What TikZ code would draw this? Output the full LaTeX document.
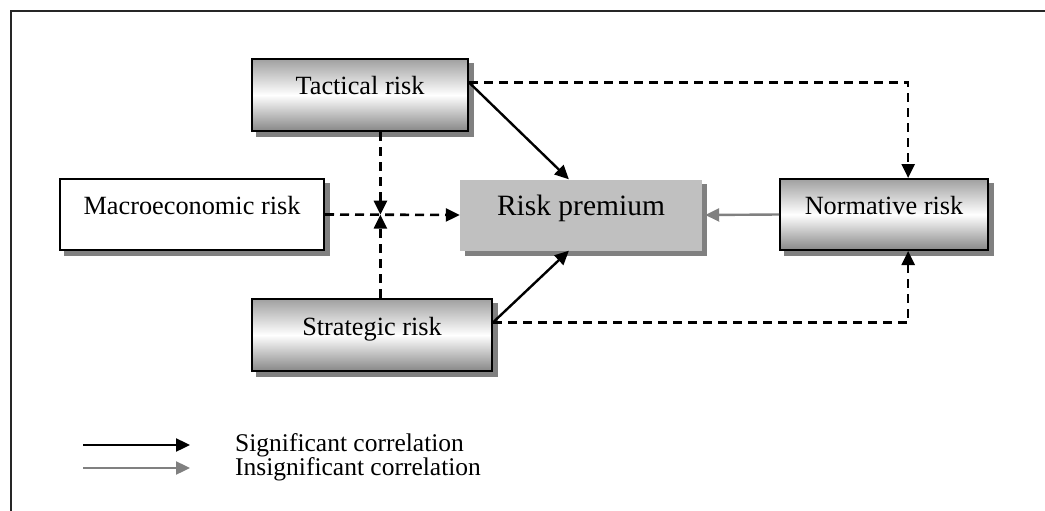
\documentclass[tikz,border=0pt]{standalone}
\usepackage{fontspec}
\setmainfont{Liberation Serif}
\usetikzlibrary{arrows.meta,calc,backgrounds}

\definecolor{shadowgray}{RGB}{128,128,128}
\definecolor{premiumgray}{RGB}{192,192,192}
\definecolor{shadetop}{RGB}{160,160,160}
\definecolor{shadebottom}{RGB}{135,135,135}
\definecolor{weakgray}{RGB}{128,128,128}

\tikzset{
  box/.style={rectangle, inner sep=0pt, line width=2pt, draw=black,
    text height=10pt, text depth=10pt,
    font=\fontsize{26.3}{30}\selectfont},
  shadedbox/.style={box, top color=shadetop, bottom color=shadebottom, middle color=white},
  plainbox/.style={box, fill=white},
  premiumbox/.style={rectangle, inner sep=0pt, fill=premiumgray,
    text height=11pt, text depth=11pt,
    font=\fontsize{29.5}{33}\selectfont},
  tip/.style={-{Triangle[length=14pt,width=13pt]}},
  strong/.style={tip, line width=2.4pt, draw=black},
  weak/.style={tip, line width=2.4pt, draw=weakgray},
  link/.style={tip, line width=2.6pt, draw=black, dash pattern=on 9pt off 6pt},
  legendtext/.style={anchor=base west, inner sep=0pt, font=\fontsize{25.5}{28}\selectfont}
}

\begin{document}
\begin{tikzpicture}[x=1pt,y=-1pt]
\useasboundingbox (0,0) rectangle (1045,511);

% frame
\draw[line width=2.5pt, black!85] (11,511) -- (11,11) -- (1045,11);

% boxes
\node[shadedbox, minimum width=216pt, minimum height=72pt] (tac) at (360,95) {Tactical risk};
\node[plainbox, minimum width=264pt, minimum height=71pt] (mac) at (192,214.5) {Macroeconomic risk};
\node[premiumbox, minimum width=242pt, minimum height=71pt] (rp) at (581,215) {Risk premium};
\node[shadedbox, minimum width=208pt, minimum height=71pt] (nor) at (884,214.5) {Normative risk};
\node[shadedbox, minimum width=240pt, minimum height=72pt] (str) at (372,335) {Strategic risk};

% drop shadows
\begin{scope}[on background layer]
  \foreach \n in {tac,mac,rp,nor,str}{
    \fill[shadowgray] ([shift={(5,5)}]\n.south west) rectangle ([shift={(5,5)}]\n.north east);
  }
\end{scope}

% anchor points on the box edges
\coordinate (tA) at ($(tac.north east)!0.33!(tac.south east)$);
\coordinate (sA) at ($(str.north east)!0.33!(str.south east)$);
\coordinate (rpT) at ($(rp.north west)!0.45!(rp.north east)$);
\coordinate (rpB) at ($(rp.south west)!0.45!(rp.south east)$);
\coordinate (nT) at ($(nor.north west)!0.615!(nor.north east)$);
\coordinate (nB) at ($(nor.south west)!0.615!(nor.south east)$);
\coordinate (X) at ($(mac.east)!0.411!(rp.west)$);

% significant links
\draw[strong] (tA) -- (rpT);
\draw[strong] (sA) -- (rpB);

% insignificant link
\draw[weak] (nor.west) -- ([xshift=3pt]rp.east);

% dashed links
\draw[link] (tA) -| (nT);
\draw[link] (sA) -| (nB);
\draw[link] (mac.east) -- (rp.west);
\draw[link] (X |- tac.south) -- (X);
\draw[link] (X |- str.north) -- (X);

% legend
\coordinate (l1a) at (83,445);
\coordinate (l1b) at (190,445);
\coordinate (l2a) at (83,468);
\coordinate (l2b) at (190,468);
\draw[strong] (l1a) -- (l1b);
\draw[weak] (l2a) -- (l2b);
\node[legendtext] (lg1) at (235,451) {Significant correlation};
\node[legendtext] (lg2) at (235,475) {Insignificant correlation};
\end{tikzpicture}
\end{document}
